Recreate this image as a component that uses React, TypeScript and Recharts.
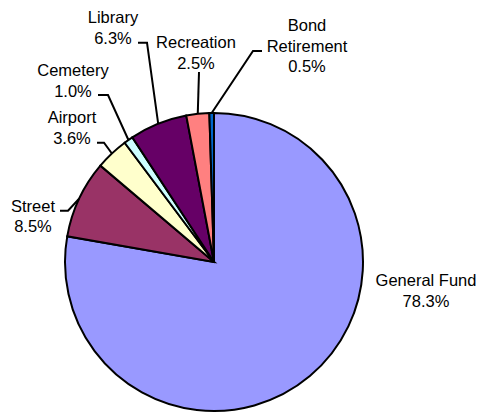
import React from 'react';
import { PieChart, Pie, Cell } from 'recharts';

const funds = ['General Fund', 'Street', 'Airport', 'Cemetery', 'Library', 'Recreation', 'Bond Retirement'];
const shares = [78.3, 8.5, 3.6, 1.0, 6.3, 2.5, 0.5];
const COLORS = ['#9999FF', '#993366', '#FFFFCC', '#CCFFFF', '#660066', '#FF8080', '#0066CC'];

const data = funds.map((name, i) => ({ name, value: shares[i] }));

// label placement relative to the pie centre (text centre x, first baseline y, leader elbow points)
const LABELS: Record<string, { dx: number; dy: number; lines?: string[]; leader: [number, number][] }> = {
  'General Fund': { dx: 212, dy: 24, leader: [] },
  Street: { dx: -181, dy: -50.5, leader: [[-154, -51.3], [-146, -51.3]] },
  Airport: { dx: -142, dy: -138.7, leader: [[-117, -119.3], [-110, -119.3]] },
  Cemetery: { dx: -141, dy: -186, leader: [[-116, -167], [-106, -167]] },
  Library: { dx: -101, dy: -239, leader: [[-76, -219.3], [-67, -219.3]] },
  Recreation: { dx: -18, dy: -214, leader: [[-15, -190]] },
  'Bond Retirement': { dx: 93, dy: -231, lines: ['Bond', 'Retirement'], leader: [[48, -211], [39, -211]] },
};

const RAD = Math.PI / 180;
const LINE_H = 20.5;

const renderLabel = (props: any) => {
  const { cx, cy, midAngle, outerRadius, name, value } = props;
  const cfg = LABELS[name];
  if (!cfg) return null;
  const lines = [...(cfg.lines || [name]), `${value.toFixed(1)}%`];
  const ex = cx + outerRadius * Math.cos(-midAngle * RAD);
  const ey = cy + outerRadius * Math.sin(-midAngle * RAD);
  const pts = cfg.leader.map(([x, y]) => `${cx + x},${cy + y}`);
  return (
    <g>
      {pts.length > 0 && (
        <polyline points={[...pts, `${ex},${ey}`].join(' ')} fill="none" stroke="#000" strokeWidth={2} />
      )}
      {lines.map((t, i) => (
        <text
          key={i}
          x={cx + cfg.dx}
          y={cy + cfg.dy + i * LINE_H}
          textAnchor="middle"
          fill="#000"
          fontSize={16.5}
          fontFamily="'Liberation Sans', Arial, sans-serif"
        >
          {t}
        </text>
      ))}
    </g>
  );
};

export default function App() {
  return (
    <div style={{ position: 'absolute', left: 0, top: 0, width: 485, height: 413, background: '#fff' }}>
      <PieChart width={485} height={413} margin={{ top: 0, right: 0, bottom: 0, left: 0 }}>
        <Pie
          data={data}
          dataKey="value"
          nameKey="name"
          cx={214}
          cy={262}
          outerRadius={149}
          startAngle={90}
          endAngle={-270}
          label={renderLabel}
          labelLine={false}
          isAnimationActive={false}
        >
          {data.map((d, i) => (
            <Cell key={d.name} fill={COLORS[i]} stroke="#000" strokeWidth={2} />
          ))}
        </Pie>
      </PieChart>
    </div>
  );
}
